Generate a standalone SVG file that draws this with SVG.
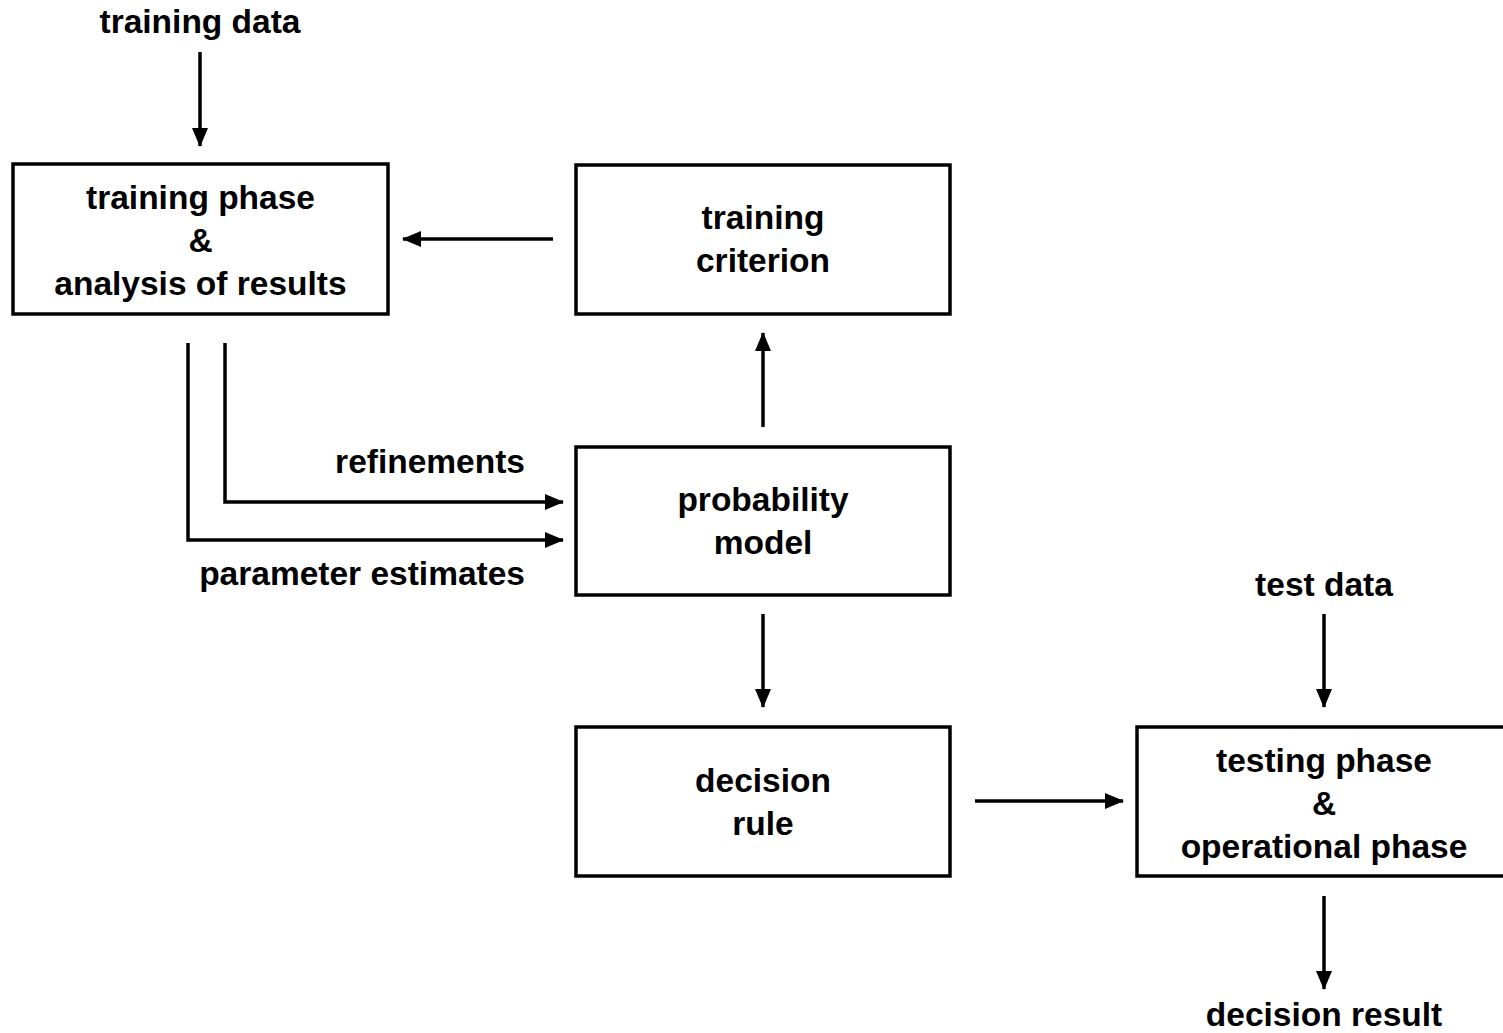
<svg xmlns="http://www.w3.org/2000/svg" width="1503" height="1033" viewBox="0 0 1503 1033">
<style>
text{font-family:"Liberation Sans",Arial,sans-serif;font-weight:bold;font-size:33.5px;fill:#000;text-anchor:middle}
.box{fill:#fff;stroke:#000;stroke-width:3.5}
.c{fill:none;stroke:#000;stroke-width:3.5;marker-end:url(#ah)}
.r{text-anchor:end}
</style>
<defs>
<marker id="ah" markerUnits="userSpaceOnUse" markerWidth="19" markerHeight="16" refX="18" refY="8" orient="auto" viewBox="0 0 19 16">
<path d="M0,0 L19,8 L0,16 Z" fill="#000"/>
</marker>
</defs>
<rect width="1503" height="1033" fill="#fff"/>
<g id="training-data"><text x="200" y="33">training data</text></g>
<g id="training-phase">
<rect class="box" x="13" y="164" width="375" height="150"/>
<text x="200.5" y="209">training phase</text>
<text x="200.5" y="252">&amp;</text>
<text x="200.5" y="295">analysis of results</text>
</g>
<g id="training-criterion">
<rect class="box" x="576" y="165" width="374" height="149"/>
<text x="763" y="229">training</text>
<text x="763" y="272">criterion</text>
</g>
<g id="probability-model">
<rect class="box" x="576" y="447" width="374" height="148"/>
<text x="763" y="511">probability</text>
<text x="763" y="554">model</text>
</g>
<g id="decision-rule">
<rect class="box" x="576" y="727" width="374" height="149"/>
<text x="763" y="792">decision</text>
<text x="763" y="835">rule</text>
</g>
<g id="testing-phase">
<rect class="box" x="1137" y="727" width="375" height="149"/>
<text x="1324" y="772">testing phase</text>
<text x="1324" y="815">&amp;</text>
<text x="1324" y="858">operational phase</text>
</g>
<g id="test-data"><text x="1324" y="596">test data</text></g>
<g id="decision-result"><text x="1324" y="1026">decision result</text></g>
<g id="labels">
<text class="r" x="525" y="473">refinements</text>
<text class="r" x="525" y="585">parameter estimates</text>
</g>
<g id="connectors">
<path class="c" d="M200,52 V146"/>
<path class="c" d="M553,239 H403"/>
<path class="c" d="M763,427 V333"/>
<path class="c" d="M225,343 V502 H563"/>
<path class="c" d="M188,343 V540 H563"/>
<path class="c" d="M763,614 V707"/>
<path class="c" d="M975,801 H1123"/>
<path class="c" d="M1324,614 V707"/>
<path class="c" d="M1324,896 V989"/>
</g>
</svg>
